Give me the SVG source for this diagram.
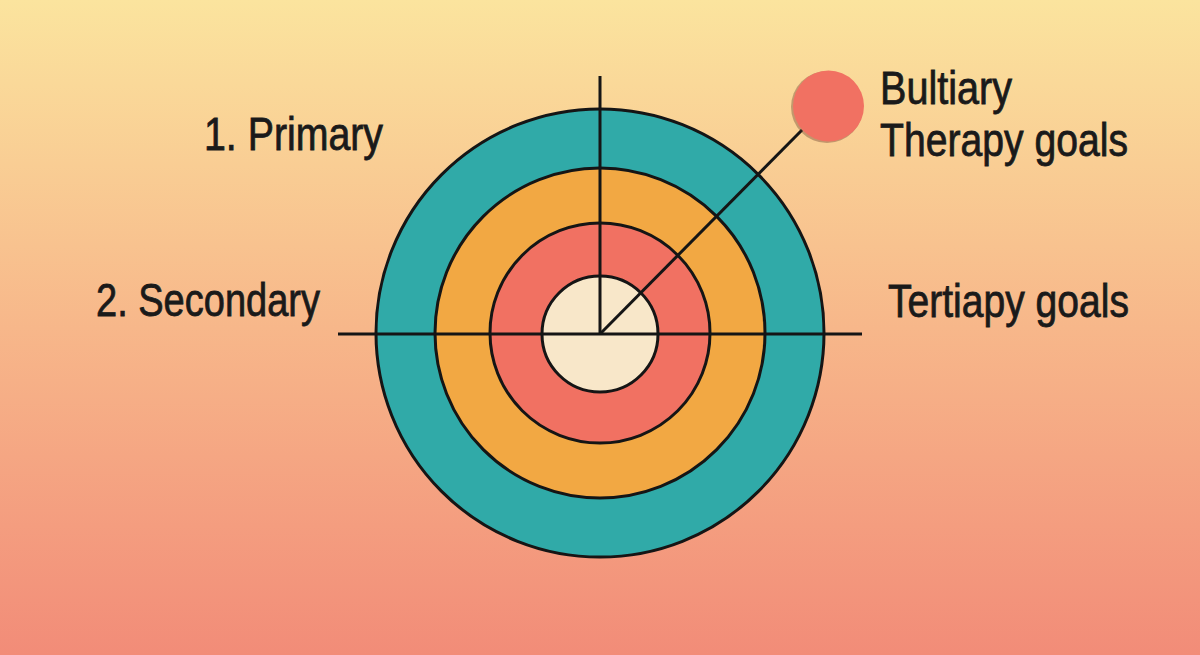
<svg xmlns="http://www.w3.org/2000/svg" width="1200" height="655" viewBox="0 0 1200 655">
  <defs>
    <linearGradient id="bg" x1="0" y1="0" x2="0" y2="1">
      <stop offset="0" stop-color="#FBE49E"/>
      <stop offset="0.5" stop-color="#F7B78A"/>
      <stop offset="1" stop-color="#F28C78"/>
    </linearGradient>
  </defs>
  <style>
    .ring { stroke: #151515; stroke-width: 3; }
    .ln { stroke: #151515; stroke-width: 3; fill: none; stroke-linecap: butt; }
    .lbl { font-family: "Liberation Sans", Arial, sans-serif; font-size: 46px; fill: #1a1a1a; stroke: #1a1a1a; stroke-width: 0.8; }
  </style>
  <rect x="0" y="0" width="1200" height="655" fill="url(#bg)"/>
  <g id="target">
    <circle class="ring" cx="600" cy="333" r="224" fill="#30AAA8"/>
    <circle class="ring" cx="600" cy="333" r="165" fill="#F2A843"/>
    <circle class="ring" cx="600" cy="333" r="110" fill="#F17162"/>
    <circle class="ring" cx="600" cy="334" r="58" fill="#F8E7C9"/>
  </g>
  <g id="connectors">
    <line class="ln" x1="600" y1="76" x2="600" y2="334"/>
    <line class="ln" x1="338" y1="334" x2="862" y2="334"/>
    <line class="ln" x1="600" y1="334" x2="802" y2="130"/>
  </g>
  <g id="marker-dot">
    <circle cx="827" cy="107" r="36" fill="#5a2a20" opacity="0.35"/>
    <circle cx="828.5" cy="106" r="35.5" fill="#F17162"/>
  </g>
  <g id="label-primary">
    <text class="lbl" x="204" y="150" textLength="179" lengthAdjust="spacingAndGlyphs">1. Primary</text>
  </g>
  <g id="label-secondary">
    <text class="lbl" x="96" y="316" textLength="224" lengthAdjust="spacingAndGlyphs">2. Secondary</text>
  </g>
  <g id="label-tertiary">
    <text class="lbl" x="888" y="317" textLength="241" lengthAdjust="spacingAndGlyphs">Tertiapy goals</text>
  </g>
  <g id="label-bultiary">
    <text class="lbl" x="880" y="104" textLength="132" lengthAdjust="spacingAndGlyphs">Bultiary</text>
    <text class="lbl" x="880" y="156" textLength="248" lengthAdjust="spacingAndGlyphs">Therapy goals</text>
  </g>
</svg>
